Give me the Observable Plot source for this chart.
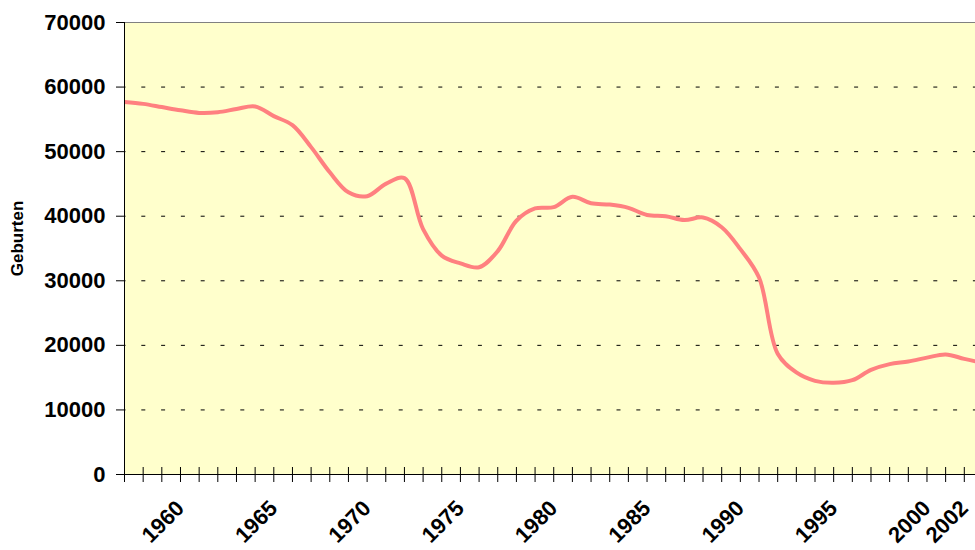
<!DOCTYPE html>
<html><head><meta charset="utf-8">
<script src="https://cdn.jsdelivr.net/npm/d3@7"></script>
<script src="https://cdn.jsdelivr.net/npm/@observablehq/plot@0.6"></script>
<style>body{margin:0;background:#fff}</style>
</head><body><div id="chart"></div>
<script>
const years = [1957,1958,1959,1960,1961,1962,1963,1964,1965,1966,1967,1968,1969,1970,1971,1972,1973,1974,1975,1976,1977,1978,1979,1980,1981,1982,1983,1984,1985,1986,1987,1988,1989,1990,1991,1992,1993,1994,1995,1996,1997,1998,1999,2000,2001,2002,2003];
const births = [57700,57400,56900,56400,56000,56100,56600,57000,55500,54100,50700,46800,43700,43100,45000,45900,38000,33900,32700,32100,34600,39300,41200,41400,43000,42000,41800,41300,40200,40000,39400,39800,38300,34900,30500,18700,15800,14500,14200,14600,16200,17100,17500,18100,18600,17900,17300];
const yTicks = [0,10000,20000,30000,40000,50000,60000,70000];
const gridValues = [10000,20000,30000,40000,50000,60000];
const xTickYears = years.filter(y => y <= 2002);
const xLabelYears = [1960,1965,1970,1975,1980,1985,1990,1995,2000,2002];
const yLabel = "Geburten";

const data = years.map((year, i) => ({year, births: births[i]}));
const font = "'Liberation Sans', Arial, sans-serif";

const chart = Plot.plot({
  width: 975,
  height: 550,
  marginLeft: 124,
  marginRight: 0,
  marginTop: 22,
  marginBottom: 76,
  style: {fontFamily: font, fontWeight: "bold", color: "#000", background: "#fff"},
  x: {domain: [1957, 2002.6]},
  y: {domain: [0, 70000]},
  marks: [
    Plot.frame({fill: "#ffffcc"}),
    Plot.ruleY(gridValues, {stroke: "#000", strokeWidth: 1, strokeDasharray: "4,15.8", strokeDashoffset: 2.5}),
    Plot.ruleY([70000], {stroke: "#808080", strokeWidth: 1}),
    Plot.line(data, {x: "year", y: "births", stroke: "#ff8080", strokeWidth: 4, curve: "catmull-rom", clip: true}),
    Plot.ruleX([1957], {stroke: "#000", strokeWidth: 1}),
    Plot.ruleY([0], {stroke: "#000", strokeWidth: 1}),
    Plot.ruleX(xTickYears, {x: d => d, y1: 0, y2: 0, insetTop: -7, insetBottom: -8, stroke: "#000", strokeWidth: 1}),
    Plot.axisY({ticks: yTicks, tickSize: 8, tickPadding: 11, tickFormat: d => String(d), label: null, fontSize: "22px", fontWeight: "bold", stroke: "#000"}),
    Plot.axisX({ticks: xLabelYears, tickSize: 0, tickRotate: -45, tickPadding: 30, tickFormat: d => String(d), label: null, fontSize: "22px", fontWeight: "bold"}),
    Plot.text([yLabel], {frameAnchor: "left", textAnchor: "middle", lineAnchor: "middle", rotate: -90, dx: -107, dy: -10, fontSize: "17px", fontWeight: "bold", fill: "#000"})
  ]
});
document.getElementById("chart").appendChild(chart);
</script>
</body></html>
